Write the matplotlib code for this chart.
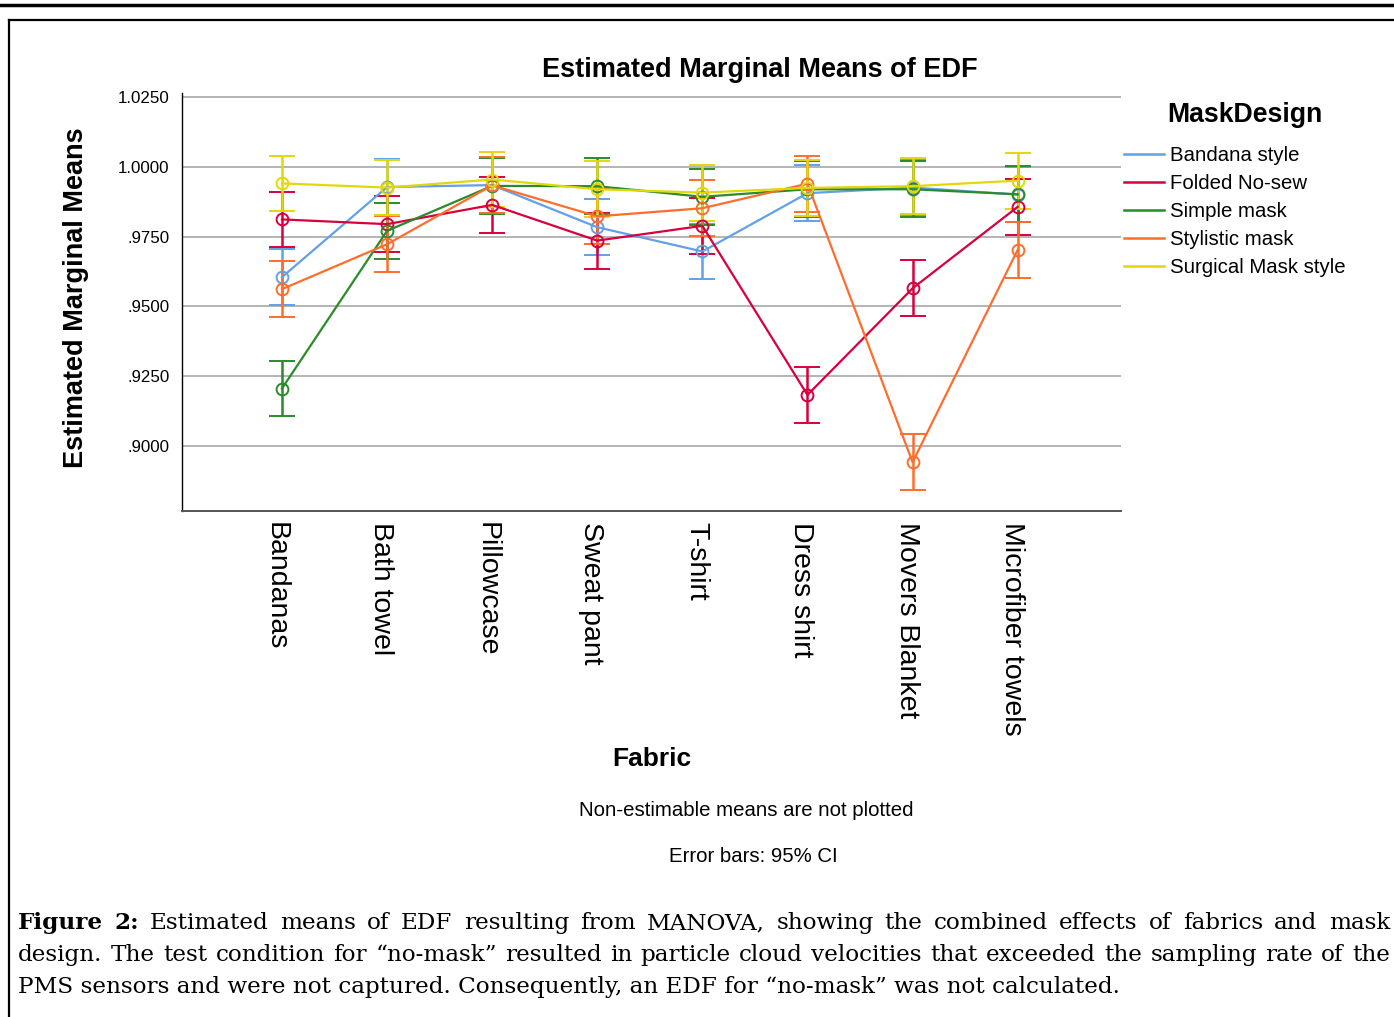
import matplotlib
matplotlib.use("Agg")
import matplotlib.pyplot as plt
import matplotlib.transforms as mtransforms
from matplotlib.lines import Line2D
import numpy as np

fabrics = ["Bandanas", "Bath towel", "Pillowcase", "Sweat pant", "T-shirt",
           "Dress shirt", "Movers Blanket", "Microfiber towels"]
designs = ["Bandana style", "Folded No-sew", "Simple mask", "Stylistic mask",
           "Surgical Mask style"]
colors = ["#62a0e8", "#d8003c", "#2b8a2b", "#ff6d2c", "#e3d70c"]

bandana_style = [0.9605, 0.9928, 0.9935, 0.9784, 0.9697, 0.9906, 0.9926, 0.9901]
folded_nosew = [0.9812, 0.9795, 0.9864, 0.9736, 0.9789, 0.9183, 0.9565, 0.9857]
simple_mask = [0.9206, 0.9771, 0.9932, 0.9931, 0.9893, 0.9920, 0.9920, 0.9902]
stylistic_mask = [0.9562, 0.9723, 0.9934, 0.9823, 0.9852, 0.9940, 0.8942, 0.9703]
surgical_mask = [0.9941, 0.9926, 0.9955, 0.9920, 0.9908, 0.9925, 0.9931, 0.9951]
ci_half = [0.0100, 0.0100, 0.0100, 0.0100, 0.0100]

yticks = [0.9000, 0.9250, 0.9500, 0.9750, 1.0000, 1.0250]
ytick_labels = [".9000", ".9250", ".9500", ".9750", "1.0000", "1.0250"]

W, H = 1394, 1017
fig = plt.figure(figsize=(W / 100, H / 100), dpi=100)
font = "Liberation Sans"

ax = fig.add_axes([182 / W, 1 - 511 / H, (1121 - 182) / W, (511 - 93) / H])
x = np.arange(len(fabrics))
series = [bandana_style, folded_nosew, simple_mask, stylistic_mask, surgical_mask]
for vals, c, name, ci in zip(series, colors, designs, ci_half):
    ax.errorbar(x, vals, yerr=ci, color=c, lw=1.6, marker="o", ms=8.5,
                mfc="none", mec=c, mew=1.4, capsize=9.7, capthick=1.8,
                elinewidth=1.8, label=name)

ax.set_xlim(-0.951, 7.983)
ax.set_ylim(0.8767, 1.0265)
ax.set_yticks(yticks)
ax.set_yticklabels(ytick_labels, fontsize=12.2, family=font)
ax.set_xticks(x)
ax.set_xticklabels([])
# category labels, nudged a little left like the original
lab_tr = ax.get_xaxis_transform() + mtransforms.ScaledTranslation(
    -6 / 100, -11 / 100, fig.dpi_scale_trans)
for xi, name in zip(x, fabrics):
    ax.text(xi, 0, name, rotation=270, fontsize=20.5, family=font,
            va="top", ha="center", transform=lab_tr)
ax.tick_params(axis="y", length=0, pad=9)
ax.tick_params(axis="x", length=0)
ax.grid(axis="y", color="#b4b4b4", lw=1.4)
ax.set_axisbelow(True)
for s in ["top", "right"]:
    ax.spines[s].set_visible(False)
ax.spines["left"].set_color("black")
ax.spines["bottom"].set_color("#555555")
ax.spines["left"].set_linewidth(1.0)
ax.spines["bottom"].set_linewidth(1.4)

fig.text(760 / W, 1 - 70 / H, "Estimated Marginal Means of EDF", ha="center",
         va="center", fontsize=19.5, fontweight="bold", family=font)
fig.text(76 / W, 1 - 298 / H, "Estimated Marginal Means", ha="center",
         va="center", rotation=90, fontsize=19.5, fontweight="bold", family=font)
fig.text(652 / W, 1 - 759 / H, "Fabric", ha="center", va="center",
         fontsize=19, fontweight="bold", family=font)
fig.text(746 / W, 1 - 811 / H, "Non-estimable means are not plotted",
         ha="center", va="center", fontsize=14.7, family=font)
fig.text(753 / W, 1 - 856 / H, "Error bars: 95% CI", ha="center",
         va="center", fontsize=14.7, family=font)

fig.text(1245 / W, 1 - 115 / H, "MaskDesign", ha="center", va="center",
         fontsize=19.2, fontweight="bold", family=font)
handles = [Line2D([0], [0], color=c, lw=1.8) for c in colors]
fig.legend(handles, designs, loc="upper left",
           bbox_to_anchor=(1106 / W, 1 - 128 / H), frameon=False,
           prop={"family": font, "size": 14.7}, handlelength=1.95,
           handletextpad=0.3, labelspacing=0.44)

# page borders
fig.add_artist(Line2D([0, 1], [1 - 5 / H, 1 - 5 / H], color="black", lw=2.5))
fig.add_artist(Line2D([9 / W, 1], [1 - 20 / H, 1 - 20 / H], color="black", lw=1.6))
fig.add_artist(Line2D([9 / W, 9 / W], [0, 1 - 20 / H], color="black", lw=1.6))

# caption, justified like the page
serif = "DejaVu Serif"
lines = [
    "Figure 2: Estimated means of EDF resulting from MANOVA, showing the combined effects of fabrics and mask",
    "design. The test condition for \u201cno-mask\u201d resulted in particle cloud velocities that exceeded the sampling rate of the",
]
last_line = "PMS sensors and were not captured. Consequently, an EDF for \u201cno-mask\u201d was not calculated."
renderer = fig.canvas.get_renderer()
probe = fig.text(0, 0, lines[1], fontsize=10, family=serif)
cap_size = 10 * 1360 / probe.get_window_extent(renderer).width
probe.remove()

line_y = [923, 955]
for li, (text, yy) in enumerate(zip(lines, line_y)):
    words = text.split(" ")
    objs = []
    for i, w in enumerate(words):
        bold = li == 0 and i < 2
        objs.append(fig.text(0, 1 - yy / H, w, fontsize=cap_size, family=serif,
                             fontweight="bold" if bold else "normal",
                             va="center"))
    widths = [o.get_window_extent(renderer).width for o in objs]
    gap = (1390 - 18 - sum(widths)) / (len(words) - 1)
    xx = 18
    for o, wd in zip(objs, widths):
        o.set_x(xx / W)
        xx += wd + gap
fig.text(18 / W, 1 - 987 / H, last_line, fontsize=cap_size, family=serif,
         va="center")

fig.savefig("out.png", dpi=100)
